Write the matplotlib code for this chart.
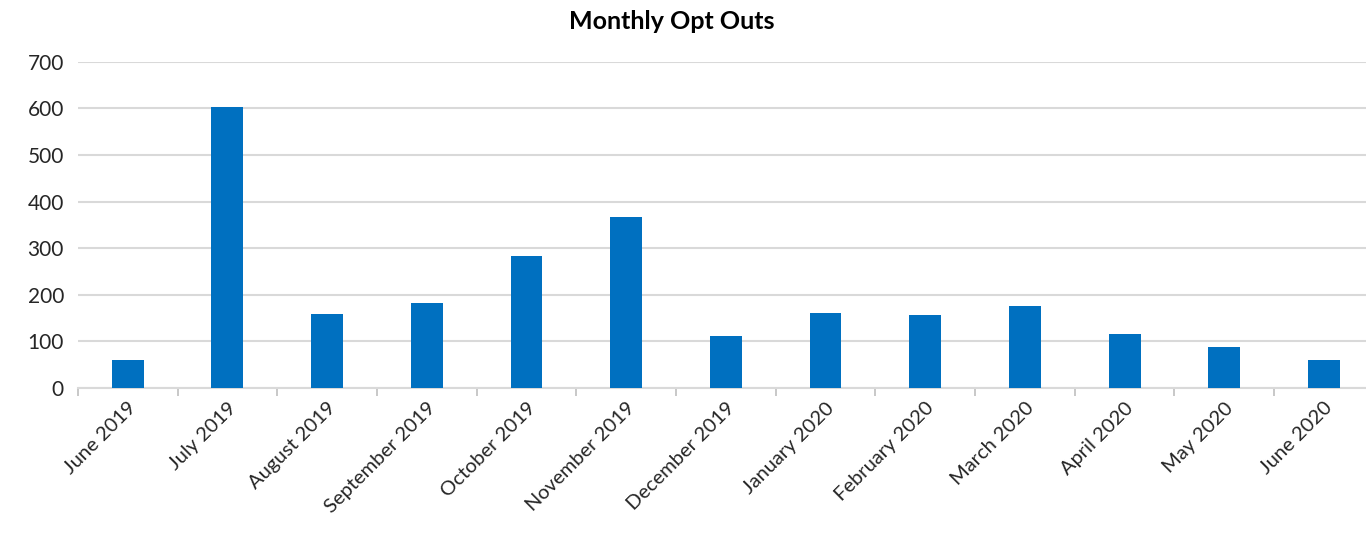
import matplotlib
matplotlib.use("Agg")
import matplotlib.pyplot as plt
import numpy as np

categories = ["June 2019", "July 2019", "August 2019", "September 2019", "October 2019",
              "November 2019", "December 2019", "January 2020", "February 2020",
              "March 2020", "April 2020", "May 2020", "June 2020"]
values = [61, 602, 158, 183, 284, 368, 111, 161, 156, 175, 116, 88, 61]
yticks = [0, 100, 200, 300, 400, 500, 600, 700]

plt.rcParams['font.family'] = ['Lato', 'DejaVu Sans']

fig = plt.figure(figsize=(13.66, 5.33), dpi=100)
ax = fig.add_axes([0.057, 0.272, 0.9487, 0.612])

x = np.arange(len(categories))
ax.bar(x, values, width=0.32, color="#0070C0", zorder=3)

ax.set_xlim(-0.5, len(categories) - 0.5)
ax.set_ylim(0, 700)
ax.set_yticks(yticks)
ax.set_yticklabels([str(t) for t in yticks], fontsize=15, color="#262626")
ax.yaxis.grid(True, color="#d9d9d9", linewidth=1.5, zorder=0)
ax.tick_params(axis="y", length=0, pad=10)

ax.set_xticks(x)
ax.set_xticklabels(categories, rotation=45, ha="right", rotation_mode="anchor",
                   fontsize=14.5, color="#262626")
ax.tick_params(axis="x", length=0, pad=8)
ax.set_xticks(np.arange(-0.5, len(categories), 1.0), minor=True)
ax.tick_params(axis="x", which="minor", length=6, color="#bfbfbf", width=1.2)

for s in ["top", "right", "left"]:
    ax.spines[s].set_visible(False)
ax.spines["bottom"].set_color("#d9d9d9")
ax.spines["bottom"].set_linewidth(1.5)

fig.text(0.492, 0.96, "Monthly Opt Outs", ha="center", va="center",
         fontsize=18, fontweight="bold", color="#000000")

fig.savefig("out.png", dpi=100)
